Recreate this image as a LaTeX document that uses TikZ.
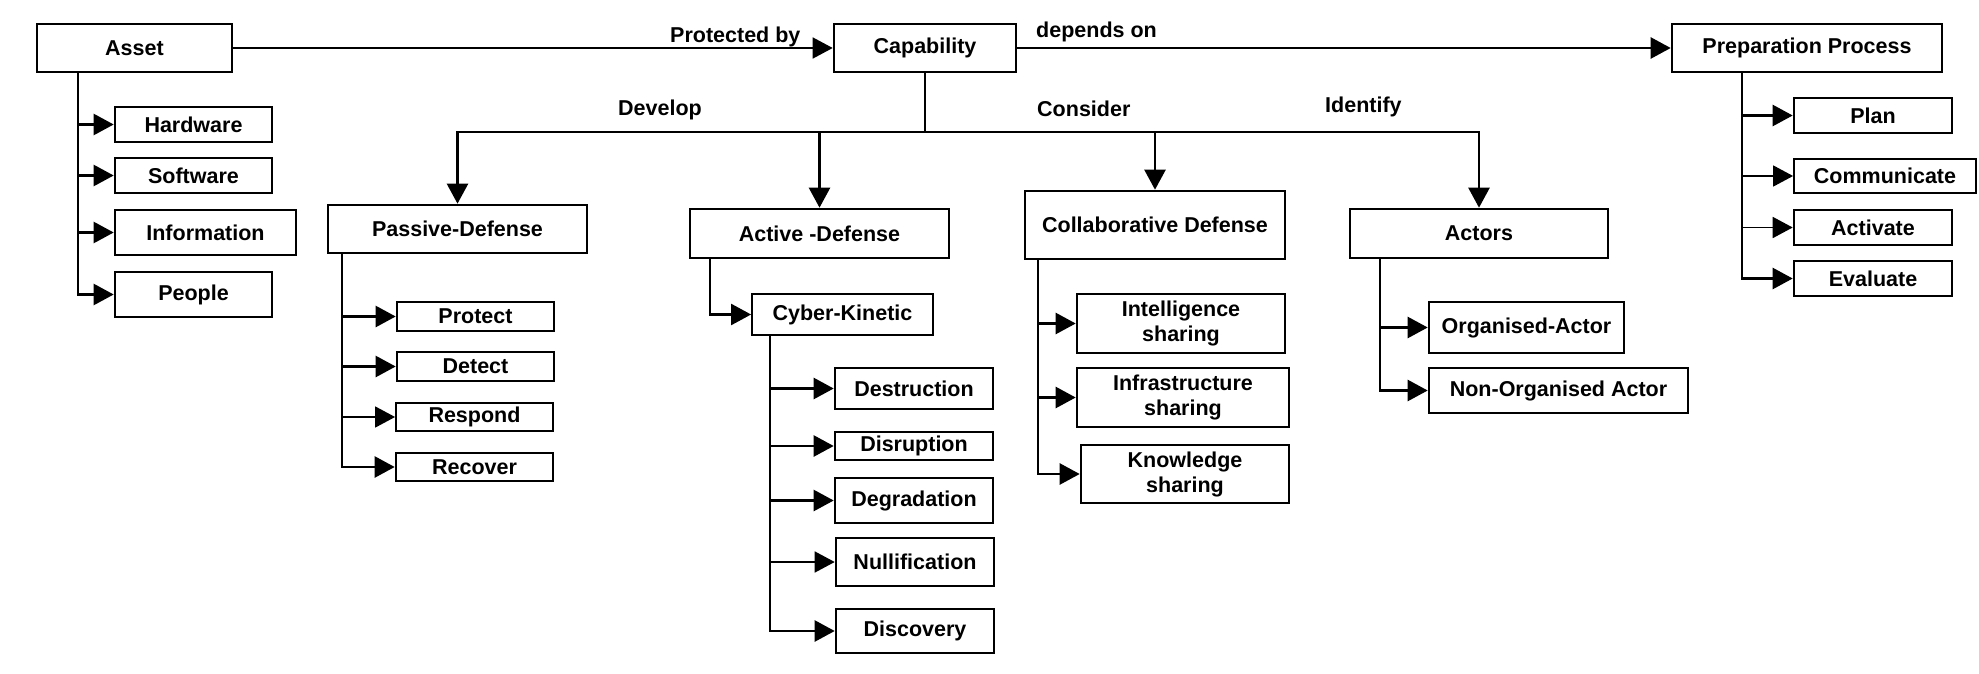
\documentclass[tikz,border=0pt]{standalone}
\usepackage{fontspec}
\setmainfont{Liberation Sans}
\usetikzlibrary{arrows.meta}
\begin{document}
\begin{tikzpicture}[x=1pt,y=-1pt,
  box/.style={draw, line width=2.6pt, rectangle, inner sep=0pt, align=center, font=\bfseries\fontsize{21.5}{25}\selectfont},
  lbl/.style={font=\bfseries\fontsize{21.5}{25}\selectfont, inner sep=0pt},
  conn/.style={line width=2.4pt, -{Triangle[length=20pt,width=21pt]}},
  thinconn/.style={line width=1.6pt, -{Triangle[length=20pt,width=21pt]}},
  plain/.style={line width=2.4pt}]
\useasboundingbox (0,0) rectangle (1979,674);
% top row
\node[box, minimum width=195pt, minimum height=48pt] (asset) at (134.5,48) {Asset};
\node[box, minimum width=182pt, minimum height=48pt] (cap) at (925,48) {Capability};
\node[box, minimum width=270pt, minimum height=48pt] (prep) at (1807,48) {Preparation Process};
% asset children
\node[box, minimum width=157pt, minimum height=35pt] (hw) at (193.5,124.5) {Hardware};
\node[box, minimum width=157pt, minimum height=35pt] (sw) at (193.5,175.5) {Software};
\node[box, minimum width=181pt, minimum height=45pt] (info) at (205.5,232.5) {Information};
\node[box, minimum width=157pt, minimum height=45pt] (people) at (193.5,294.5) {People};
% second level
\node[box, minimum width=259pt, minimum height=48pt] (passive) at (457.5,229) {Passive-Defense};
\node[box, minimum width=259pt, minimum height=49pt] (active) at (819.5,233.5) {Active -Defense};
\node[box, minimum width=260pt, minimum height=68pt] (collab) at (1155,225) {Collaborative Defense};
\node[box, minimum width=258pt, minimum height=49pt] (actors) at (1479,233.5) {Actors};
% passive children
\node[box, minimum width=157pt, minimum height=29pt] (protect) at (475.5,316.5) {Protect};
\node[box, minimum width=157pt, minimum height=29pt] (detect) at (475.5,366.5) {Detect};
\node[box, line width=1.8pt, minimum width=157pt, minimum height=28pt] (respond) at (474.5,417) {Respond};
\node[box, minimum width=157pt, minimum height=28pt] (recover) at (474.5,467) {Recover};
% active children
\node[box, line width=1.8pt, minimum width=181pt, minimum height=41pt] (cyber) at (842.5,314.5) {Cyber-Kinetic};
\node[box, minimum width=158pt, minimum height=41pt] (destr) at (914,388.5) {Destruction};
\node[box, minimum width=158pt, minimum height=28pt] (disr) at (914,446) {Disruption};
\node[box, minimum width=158pt, minimum height=45pt] (degr) at (914,500.5) {Degradation};
\node[box, minimum width=158pt, minimum height=48pt] (nullif) at (915,562) {Nullification};
\node[box, minimum width=158pt, minimum height=44pt] (disc) at (915,631) {Discovery};
% collab children
\node[box, minimum width=208pt, minimum height=59pt] (intel) at (1181,323.5) {Intelligence\\sharing};
\node[box, minimum width=212pt, minimum height=59pt] (infra) at (1183,397.5) {Infrastructure\\sharing};
\node[box, minimum width=208pt, minimum height=58pt] (know) at (1185,474) {Knowledge\\sharing};
% actors children
\node[box, minimum width=195pt, minimum height=51pt] (org) at (1526.5,327.5) {Organised-Actor};
\node[box, minimum width=259pt, minimum height=45pt] (nonorg) at (1558.5,390.5) {Non-Organised Actor};
% prep children
\node[box, minimum width=158pt, minimum height=35pt] (plan) at (1873,115.5) {Plan};
\node[box, line width=1.8pt, minimum width=182pt, minimum height=34pt] (comm) at (1885,176) {Communicate};
\node[box, minimum width=158pt, minimum height=35pt] (activ) at (1873,227.5) {Activate};
\node[box, minimum width=158pt, minimum height=35pt] (eval) at (1873,278.5) {Evaluate};
% labels
\node[lbl, anchor=base west] (lprot) at (670,43) {Protected by};
\node[lbl, anchor=base west] (ldep) at (1036,38) {depends on};
\node[lbl, anchor=base west] (ldev) at (618,116) {Develop};
\node[lbl, anchor=base west] (lcons) at (1037,117) {Consider};
\node[lbl, anchor=base west] (lident) at (1325,113) {Identify};
% top connectors
\draw[thinconn] (asset.east) -- (cap.west);
\draw[conn] (cap.east) -- (prep.west);
% capability branches
\coordinate (br) at (cap.south |- 0,132);
\draw[plain] (cap.south) -- (br);
\draw[conn] (br) -| (passive.north);
\draw[conn] (br) -| (active.north);
\draw[conn] (br) -| (collab.north);
\draw[conn] (br) -| (actors.north);
% asset trunk
\coordinate (ta) at ([xshift=42pt]asset.south west);
\draw[conn] (ta) |- (hw.west);
\draw[conn] (ta) |- (sw.west);
\draw[conn] (ta) |- (info.west);
\draw[conn] (ta) |- (people.west);
% passive trunk
\coordinate (tp) at ([xshift=15pt]passive.south west);
\draw[conn] (tp) |- (protect.west);
\draw[conn] (tp) |- (detect.west);
\draw[thinconn] (tp) |- (respond.west);
\draw[conn] (tp) |- (recover.west);
% active trunk
\coordinate (tac) at ([xshift=21pt]active.south west);
\draw[conn] (tac) |- (cyber.west);
\coordinate (tc) at ([xshift=19pt]cyber.south west);
\draw[conn] (tc) |- (destr.west);
\draw[conn] (tc) |- (disr.west);
\draw[conn] (tc) |- (degr.west);
\draw[thinconn] (tc) |- (nullif.west);
\draw[conn] (tc) |- (disc.west);
% collab trunk
\coordinate (tco) at ([xshift=14pt]collab.south west);
\draw[conn] (tco) |- (intel.west);
\draw[conn] (tco) |- (infra.west);
\draw[conn] (tco) |- (know.west);
% actors trunk
\coordinate (tat) at ([xshift=31pt]actors.south west);
\draw[conn] (tat) |- (org.west);
\draw[conn] (tat) |- (nonorg.west);
% prep trunk
\coordinate (tpr) at ([xshift=71pt]prep.south west);
\draw[conn] (tpr) |- (plan.west);
\draw[thinconn] (tpr) |- (comm.west);
\draw[thinconn] (tpr) |- (activ.west);
\draw[conn] (tpr) |- (eval.west);
\end{tikzpicture}
\end{document}
